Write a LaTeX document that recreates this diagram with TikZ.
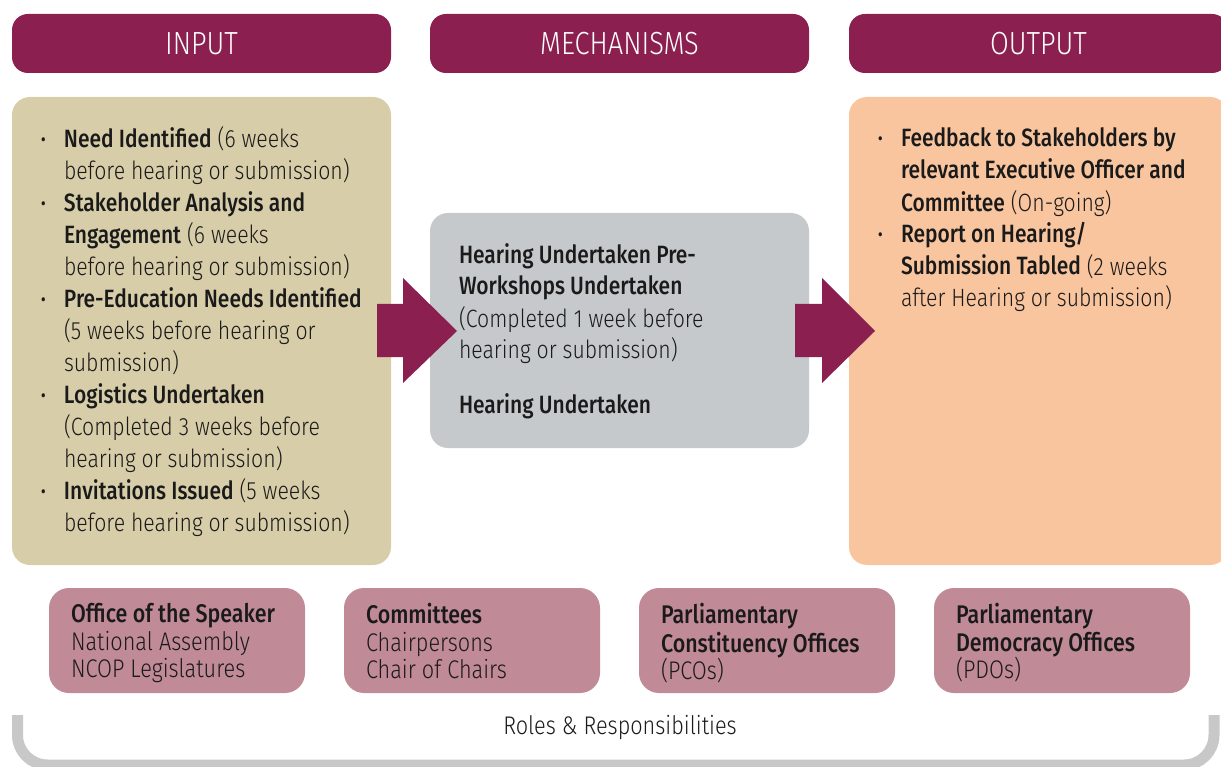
\documentclass[tikz,border=0pt]{standalone}
\usepackage{fontspec}
\setmainfont{Fira Sans Light}[BoldFont={Fira Sans Medium}, FakeStretch=0.85, BoldFeatures={FakeStretch=0.84}]
\usetikzlibrary{calc}
\definecolor{plum}{RGB}{139,32,80}
\definecolor{tan}{RGB}{216,205,169}
\definecolor{mechgray}{RGB}{197,201,203}
\definecolor{peach}{RGB}{248,197,159}
\definecolor{rolepink}{RGB}{192,138,151}
\definecolor{bracketgray}{RGB}{200,200,200}
\definecolor{ink}{RGB}{26,26,26}
\newcommand{\blt}{\llap{\textbf{·}\hspace{18pt}}}
\begin{document}
\begin{tikzpicture}[x=1pt,y=-1pt,
  every node/.style={inner sep=0pt, outer sep=0pt},
  header/.style={fill=plum, rounded corners=16pt, minimum width=379pt, minimum height=59pt,
    text=white, font={\fontsize{32}{36}\selectfont}},
  panel/.style={rounded corners=18pt, minimum width=379pt},
  rolebox/.style={fill=rolepink, rounded corners=20pt, minimum width=256pt, minimum height=105pt},
  bodytext/.style={anchor=north west, align=left, text=ink, font={\fontsize{25}{32}\selectfont}},
  roletext/.style={anchor=north west, align=left, text=ink, font={\fontsize{25.5}{27}\selectfont}},
  blockarrow/.style={fill=plum}
]
\useasboundingbox (0,0) rectangle (1221,767);

% column headers
\node[header] (hin)  at (201.5,43.5) {INPUT};
\node[header] (hmec) at (619.5,43.5) {MECHANISMS};
\node[header] (hout) at (1038.5,43.5) {OUTPUT};

% column panels
\node[panel, fill=tan, minimum height=468pt] (pin) at (201.5,331) {};
\node[panel, fill=mechgray, minimum height=235pt] (pmec) at (619.5,330.5) {};
\node[panel, fill=peach, minimum height=468pt] (pout) at (1038.5,331) {};

% block arrows between the panels
\fill[blockarrow] (377,304) -- (403,304) -- (403,278) -- (457,331) -- (403,383) -- (403,357) -- (377,357) -- cycle;
\fill[blockarrow] (795,304) -- (822,304) -- (822,278) -- (875,331) -- (822,383) -- (822,357) -- (795,357) -- cycle;

% input items
\node[bodytext] (tin) at (64,124.6) {\strut\blt\textbf{Need Identified} (6 weeks\\
before hearing or submission)\\
\blt\textbf{Stakeholder Analysis and}\\
\textbf{Engagement} (6 weeks\\
before hearing or submission)\\
\blt\textbf{Pre-Education Needs Identified}\\
(5 weeks before hearing or\\
submission)\\
\blt\textbf{Logistics Undertaken}\\
(Completed 3 weeks before\\
hearing or submission)\\
\blt\textbf{Invitations Issued} (5 weeks\\
before hearing or submission)};

% mechanisms
\node[bodytext] (tmec) at (459,240.6) {\strut\textbf{Hearing Undertaken Pre-}\\
\textbf{Workshops Undertaken}\\
(Completed 1 week before\\
hearing or submission)\\[22pt]
\textbf{Hearing Undertaken}};

% outputs
\node[bodytext] (tout) at (901,124.6) {\strut\blt\textbf{Feedback to Stakeholders by}\\
\textbf{relevant Executive Officer and}\\
\textbf{Committee} (On-going)\\
\blt\textbf{Report on Hearing/}\\
\textbf{Submission Tabled} (2 weeks\\
after Hearing or submission)};

% roles and responsibilities
\node[rolebox] (r1) at (177,640.5) {};
\node[rolebox] (r2) at (472,640.5) {};
\node[rolebox] (r3) at (767,640.5) {};
\node[rolebox] (r4) at (1062,640.5) {};
\node[roletext] (t1) at (71,603.1) {\strut\textbf{Office of the Speaker}\\National Assembly\\NCOP Legislatures};
\node[roletext] (t2) at (366,603.1) {\strut\textbf{Committees}\\Chairpersons\\Chair of Chairs};
\node[roletext] (t3) at (661,603.1) {\strut\textbf{Parliamentary}\\\textbf{Constituency Offices}\\(PCOs)};
\node[roletext] (t4) at (956,603.1) {\strut\textbf{Parliamentary}\\\textbf{Democracy Offices}\\(PDOs)};

% bracket grouping the roles
\coordinate (bl) at (17.5,715);
\coordinate (br) at (1214,715);
\draw[bracketgray, line width=11pt, rounded corners=30pt] (bl) -- (17.5,765) -- (1214,765) -- (br);
\node[anchor=base, text=ink, font={\fontsize{25.5}{32}\selectfont}] (roles) at (620,734) {Roles \& Responsibilities};
\end{tikzpicture}
\end{document}
